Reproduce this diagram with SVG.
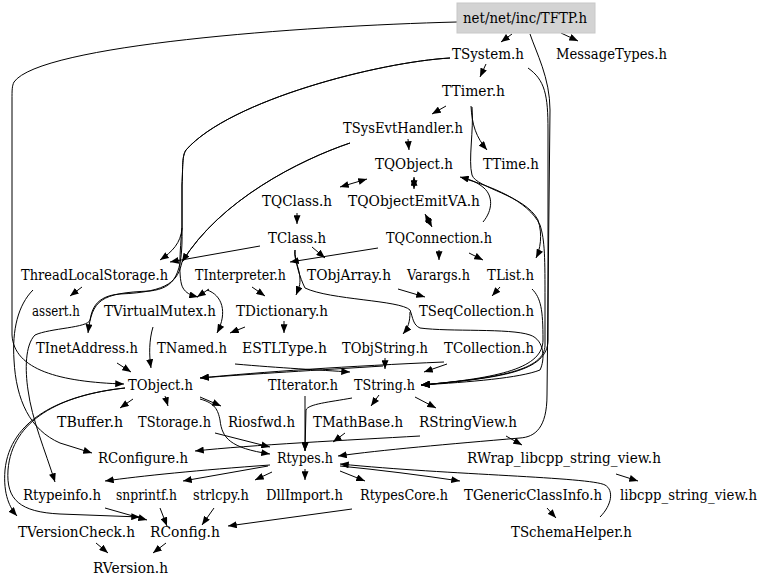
<svg xmlns="http://www.w3.org/2000/svg" width="768" height="588" viewBox="0 0 768 588">
<style>
.t text{font-family:"DejaVu Serif","Liberation Serif",serif;font-size:14px;fill:#000;text-anchor:middle}
.e{fill:none;stroke:#000;stroke-width:1;marker-end:url(#a)}
.b{marker-start:url(#a)}
</style>
<defs>
<marker id="a" viewBox="0 0 10 8" refX="10" refY="4" markerWidth="9" markerHeight="7" markerUnits="userSpaceOnUse" orient="auto-start-reverse"><path d="M0,0L10,4L0,8z" fill="#000"/></marker>
</defs>
<rect width="768" height="588" fill="#fff"/>
<g id="edges">
<path class="e" d="M512,34 L501,42"/>
<path class="e" d="M561,33 L578,41"/>
<path class="e" d="M457,22 C300,26 40,45 14,82 C12,86 12,90 12,100 L12,335 C14,370 60,382 124,384"/>
<path class="e" d="M530,34 C536,52 550,78 550,110 L547,395 C547,428 535,437 520,438 C450,444 380,450 338,456"/>
<path class="e" d="M486,64 L480,77"/>
<path class="e" d="M450,58 C380,62 230,100 186,150 C182,156 183,165 182,185 L182,228 C181,243 172,252 160,260"/>
<path class="e" d="M450,58 C380,62 230,100 186,150 C182,156 183,165 182,185 L182,228 C180,250 178,280 183,288 C186,293 190,295 198,297"/>
<path class="e" d="M182,228 C183,275 175,288 150,291 C100,293 92,300 88,333"/>
<path class="e" d="M528,68 C545,80 548,95 548,130 L548,340 C548,372 500,378 421,385"/>
<path class="e" d="M446,106 L432,114"/>
<path class="e" d="M471,106 C472,125 476,137 487,150"/>
<path class="e" d="M408,139 L409,150"/>
<path class="e b" d="M340,187 L367,179"/>
<path class="e b" d="M414,177 L414,189"/>
<path class="e b" d="M425,214 L432,227"/>
<path class="e" d="M483,222 C493,210 493,196 484,188 C476,181 468,179 460,177"/>
<path class="e" d="M462,178 C490,186 528,200 540,225 C545,240 545,260 545,300 L545,345 C545,370 500,378 421,385"/>
<path class="e" d="M472,107 C474,130 468,160 472,175 C476,188 525,195 538,220 C543,235 540,250 536,258"/>
<path class="e" d="M532,289 C541,298 543,310 543,340 C543,368 500,378 421,385"/>
<path class="e" d="M350,143 C300,160 220,200 182,262"/>
<path class="e" d="M297,213 L297,224"/>
<path class="e" d="M260,246 L170,262"/>
<path class="e" d="M82,287 L70,296"/>
<path class="e" d="M295,250 C293,258 300,268 300,280 C300,287 298,290 296,295"/>
<path class="e" d="M295,250 C295,262 300,278 305,288 C330,300 400,300 410,310 C413,318 413,325 420,328 C450,332 510,328 530,335 C545,340 545,360 540,370 C520,378 470,382 421,385"/>
<path class="e" d="M378,248 L290,262"/>
<path class="e" d="M312,247 L325,258"/>
<path class="e" d="M439,250 L439,260"/>
<path class="e" d="M469,253 L483,260"/>
<path class="e" d="M252,287 L265,296"/>
<path class="e" d="M209,289 L197,297"/>
<path class="e" d="M207,290 C222,295 228,312 217,333"/>
<path class="e" d="M245,327 L230,333"/>
<path class="e" d="M284,321 L284,333"/>
<path class="e" d="M398,289 L425,297"/>
<path class="e" d="M500,287 L492,296"/>
<path class="e" d="M410,312 C410,322 408,328 403,334"/>
<path class="e" d="M447,364 L424,372"/>
<path class="e" d="M385,358 L385,369"/>
<path class="e" d="M235,364 C280,368 320,370 350,372"/>
<path class="e" d="M383,366 C320,370 250,374 200,378"/>
<path class="e" d="M444,362 C350,366 260,372 200,378"/>
<path class="e" d="M153,327 C149,340 149,355 151,368"/>
<path class="e" d="M117,363 L131,372"/>
<path class="e" d="M350,143 C300,160 220,200 182,262 C178,280 170,292 120,294 C95,296 92,310 90,320 C88,328 50,328 35,335 C25,345 25,370 28,390 C32,420 45,450 55,482"/>
<path class="e" d="M33,290 C18,305 12,330 14,360 C16,400 30,430 60,443 L92,453"/>
<path class="e" d="M133,399 L120,408"/>
<path class="e" d="M165,396 L168,406"/>
<path class="e" d="M200,397 L221,406"/>
<path class="e" d="M200,399 C215,403 218,410 220,420 C222,438 230,448 270,454"/>
<path class="e" d="M215,433 L270,447"/>
<path class="e" d="M125,388 C60,395 10,420 5,470 C3,495 10,508 17,516"/>
<path class="e" d="M125,388 C60,395 12,420 8,470 C6,500 20,512 60,514 L140,517"/>
<path class="e" d="M379,395 L371,406"/>
<path class="e" d="M415,397 L436,408"/>
<path class="e" d="M305,396 L305,451"/>
<path class="e" d="M352,398 C330,402 308,404 306,410 L305,451"/>
<path class="e" d="M345,433 L333,442"/>
<path class="e" d="M420,436 C350,440 250,445 195,451"/>
<path class="e" d="M506,436 L522,445"/>
<path class="e" d="M270,465 C200,470 140,476 105,481"/>
<path class="e" d="M268,466 L183,481"/>
<path class="e" d="M272,472 L255,480"/>
<path class="e" d="M305,469 L305,480"/>
<path class="e" d="M340,471 L365,481"/>
<path class="e" d="M340,466 C380,470 420,475 460,481"/>
<path class="e" d="M600,517 C612,505 614,490 605,485 C590,477 450,475 340,464"/>
<path class="e" d="M547,508 L556,518"/>
<path class="e" d="M616,474 L638,481"/>
<path class="e" d="M352,509 L228,526"/>
<path class="e" d="M160,508 L167,526"/>
<path class="e" d="M214,508 L202,525"/>
<path class="e" d="M105,508 L147,520"/>
<path class="e" d="M96,543 L108,553"/>
<path class="e" d="M166,543 L153,553"/>
</g>
<g class="t">
<g id="n_tftp"><rect x="457" y="3" width="138" height="30" fill="#d3d3d3" stroke="#c8c8c8"/><text x="525" y="23" textLength="124" lengthAdjust="spacingAndGlyphs">net/net/inc/TFTP.h</text></g>
<g id="n_tsystem"><text x="488" y="59" textLength="72" lengthAdjust="spacingAndGlyphs">TSystem.h</text></g>
<g id="n_messagetypes"><text x="611.5" y="59" textLength="111" lengthAdjust="spacingAndGlyphs">MessageTypes.h</text></g>
<g id="n_ttimer"><text x="473.5" y="96" textLength="63" lengthAdjust="spacingAndGlyphs">TTimer.h</text></g>
<g id="n_tsysevthandler"><text x="403" y="133" textLength="120" lengthAdjust="spacingAndGlyphs">TSysEvtHandler.h</text></g>
<g id="n_tqobject"><text x="414" y="169" textLength="78" lengthAdjust="spacingAndGlyphs">TQObject.h</text></g>
<g id="n_ttime"><text x="511" y="169" textLength="56" lengthAdjust="spacingAndGlyphs">TTime.h</text></g>
<g id="n_tqclass"><text x="297" y="206" textLength="70" lengthAdjust="spacingAndGlyphs">TQClass.h</text></g>
<g id="n_tqobjectemitva"><text x="414" y="206" textLength="132" lengthAdjust="spacingAndGlyphs">TQObjectEmitVA.h</text></g>
<g id="n_tclass"><text x="297" y="243" textLength="58" lengthAdjust="spacingAndGlyphs">TClass.h</text></g>
<g id="n_tqconnection"><text x="439" y="243" textLength="106" lengthAdjust="spacingAndGlyphs">TQConnection.h</text></g>
<g id="n_threadlocalstorage"><text x="94.5" y="280" textLength="147" lengthAdjust="spacingAndGlyphs">ThreadLocalStorage.h</text></g>
<g id="n_tinterpreter"><text x="240.5" y="280" textLength="91" lengthAdjust="spacingAndGlyphs">TInterpreter.h</text></g>
<g id="n_tobjarray"><text x="349" y="280" textLength="84" lengthAdjust="spacingAndGlyphs">TObjArray.h</text></g>
<g id="n_varargs"><text x="438.5" y="280" textLength="63" lengthAdjust="spacingAndGlyphs">Varargs.h</text></g>
<g id="n_tlist"><text x="510.5" y="280" textLength="47" lengthAdjust="spacingAndGlyphs">TList.h</text></g>
<g id="n_assert"><text x="56" y="316" textLength="48" lengthAdjust="spacingAndGlyphs">assert.h</text></g>
<g id="n_tvirtualmutex"><text x="160" y="316" textLength="112" lengthAdjust="spacingAndGlyphs">TVirtualMutex.h</text></g>
<g id="n_tdictionary"><text x="282" y="316" textLength="92" lengthAdjust="spacingAndGlyphs">TDictionary.h</text></g>
<g id="n_tseqcollection"><text x="476.5" y="316" textLength="115" lengthAdjust="spacingAndGlyphs">TSeqCollection.h</text></g>
<g id="n_tinetaddress"><text x="87" y="353" textLength="102" lengthAdjust="spacingAndGlyphs">TInetAddress.h</text></g>
<g id="n_tnamed"><text x="192" y="353" textLength="70" lengthAdjust="spacingAndGlyphs">TNamed.h</text></g>
<g id="n_estltype"><text x="284.5" y="353" textLength="85" lengthAdjust="spacingAndGlyphs">ESTLType.h</text></g>
<g id="n_tobjstring"><text x="385" y="353" textLength="86" lengthAdjust="spacingAndGlyphs">TObjString.h</text></g>
<g id="n_tcollection"><text x="489" y="353" textLength="90" lengthAdjust="spacingAndGlyphs">TCollection.h</text></g>
<g id="n_tobject"><text x="160.5" y="390" textLength="65" lengthAdjust="spacingAndGlyphs">TObject.h</text></g>
<g id="n_titerator"><text x="303" y="390" textLength="70" lengthAdjust="spacingAndGlyphs">TIterator.h</text></g>
<g id="n_tstring"><text x="384.5" y="390" textLength="61" lengthAdjust="spacingAndGlyphs">TString.h</text></g>
<g id="n_tbuffer"><text x="90" y="427" textLength="66" lengthAdjust="spacingAndGlyphs">TBuffer.h</text></g>
<g id="n_tstorage"><text x="174.5" y="427" textLength="73" lengthAdjust="spacingAndGlyphs">TStorage.h</text></g>
<g id="n_riosfwd"><text x="261.5" y="427" textLength="67" lengthAdjust="spacingAndGlyphs">Riosfwd.h</text></g>
<g id="n_tmathbase"><text x="358" y="427" textLength="90" lengthAdjust="spacingAndGlyphs">TMathBase.h</text></g>
<g id="n_rstringview"><text x="468" y="427" textLength="98" lengthAdjust="spacingAndGlyphs">RStringView.h</text></g>
<g id="n_rconfigure"><text x="143" y="463" textLength="90" lengthAdjust="spacingAndGlyphs">RConfigure.h</text></g>
<g id="n_rtypes"><text x="305" y="463" textLength="56" lengthAdjust="spacingAndGlyphs">Rtypes.h</text></g>
<g id="n_rwrap"><text x="564" y="463" textLength="194" lengthAdjust="spacingAndGlyphs">RWrap_libcpp_string_view.h</text></g>
<g id="n_rtypeinfo"><text x="62" y="500" textLength="78" lengthAdjust="spacingAndGlyphs">Rtypeinfo.h</text></g>
<g id="n_snprintf"><text x="146.5" y="500" textLength="61" lengthAdjust="spacingAndGlyphs">snprintf.h</text></g>
<g id="n_strlcpy"><text x="221" y="500" textLength="56" lengthAdjust="spacingAndGlyphs">strlcpy.h</text></g>
<g id="n_dllimport"><text x="304.5" y="500" textLength="77" lengthAdjust="spacingAndGlyphs">DllImport.h</text></g>
<g id="n_rtypescore"><text x="404" y="500" textLength="88" lengthAdjust="spacingAndGlyphs">RtypesCore.h</text></g>
<g id="n_tgenericclassinfo"><text x="533" y="500" textLength="138" lengthAdjust="spacingAndGlyphs">TGenericClassInfo.h</text></g>
<g id="n_libcpp"><text x="688.5" y="500" textLength="137" lengthAdjust="spacingAndGlyphs">libcpp_string_view.h</text></g>
<g id="n_tversioncheck"><text x="76.5" y="537" textLength="117" lengthAdjust="spacingAndGlyphs">TVersionCheck.h</text></g>
<g id="n_rconfig"><text x="185" y="537" textLength="70" lengthAdjust="spacingAndGlyphs">RConfig.h</text></g>
<g id="n_tschemahelper"><text x="571.5" y="537" textLength="121" lengthAdjust="spacingAndGlyphs">TSchemaHelper.h</text></g>
<g id="n_rversion"><text x="130.5" y="573" textLength="75" lengthAdjust="spacingAndGlyphs">RVersion.h</text></g>
</g>
</svg>
